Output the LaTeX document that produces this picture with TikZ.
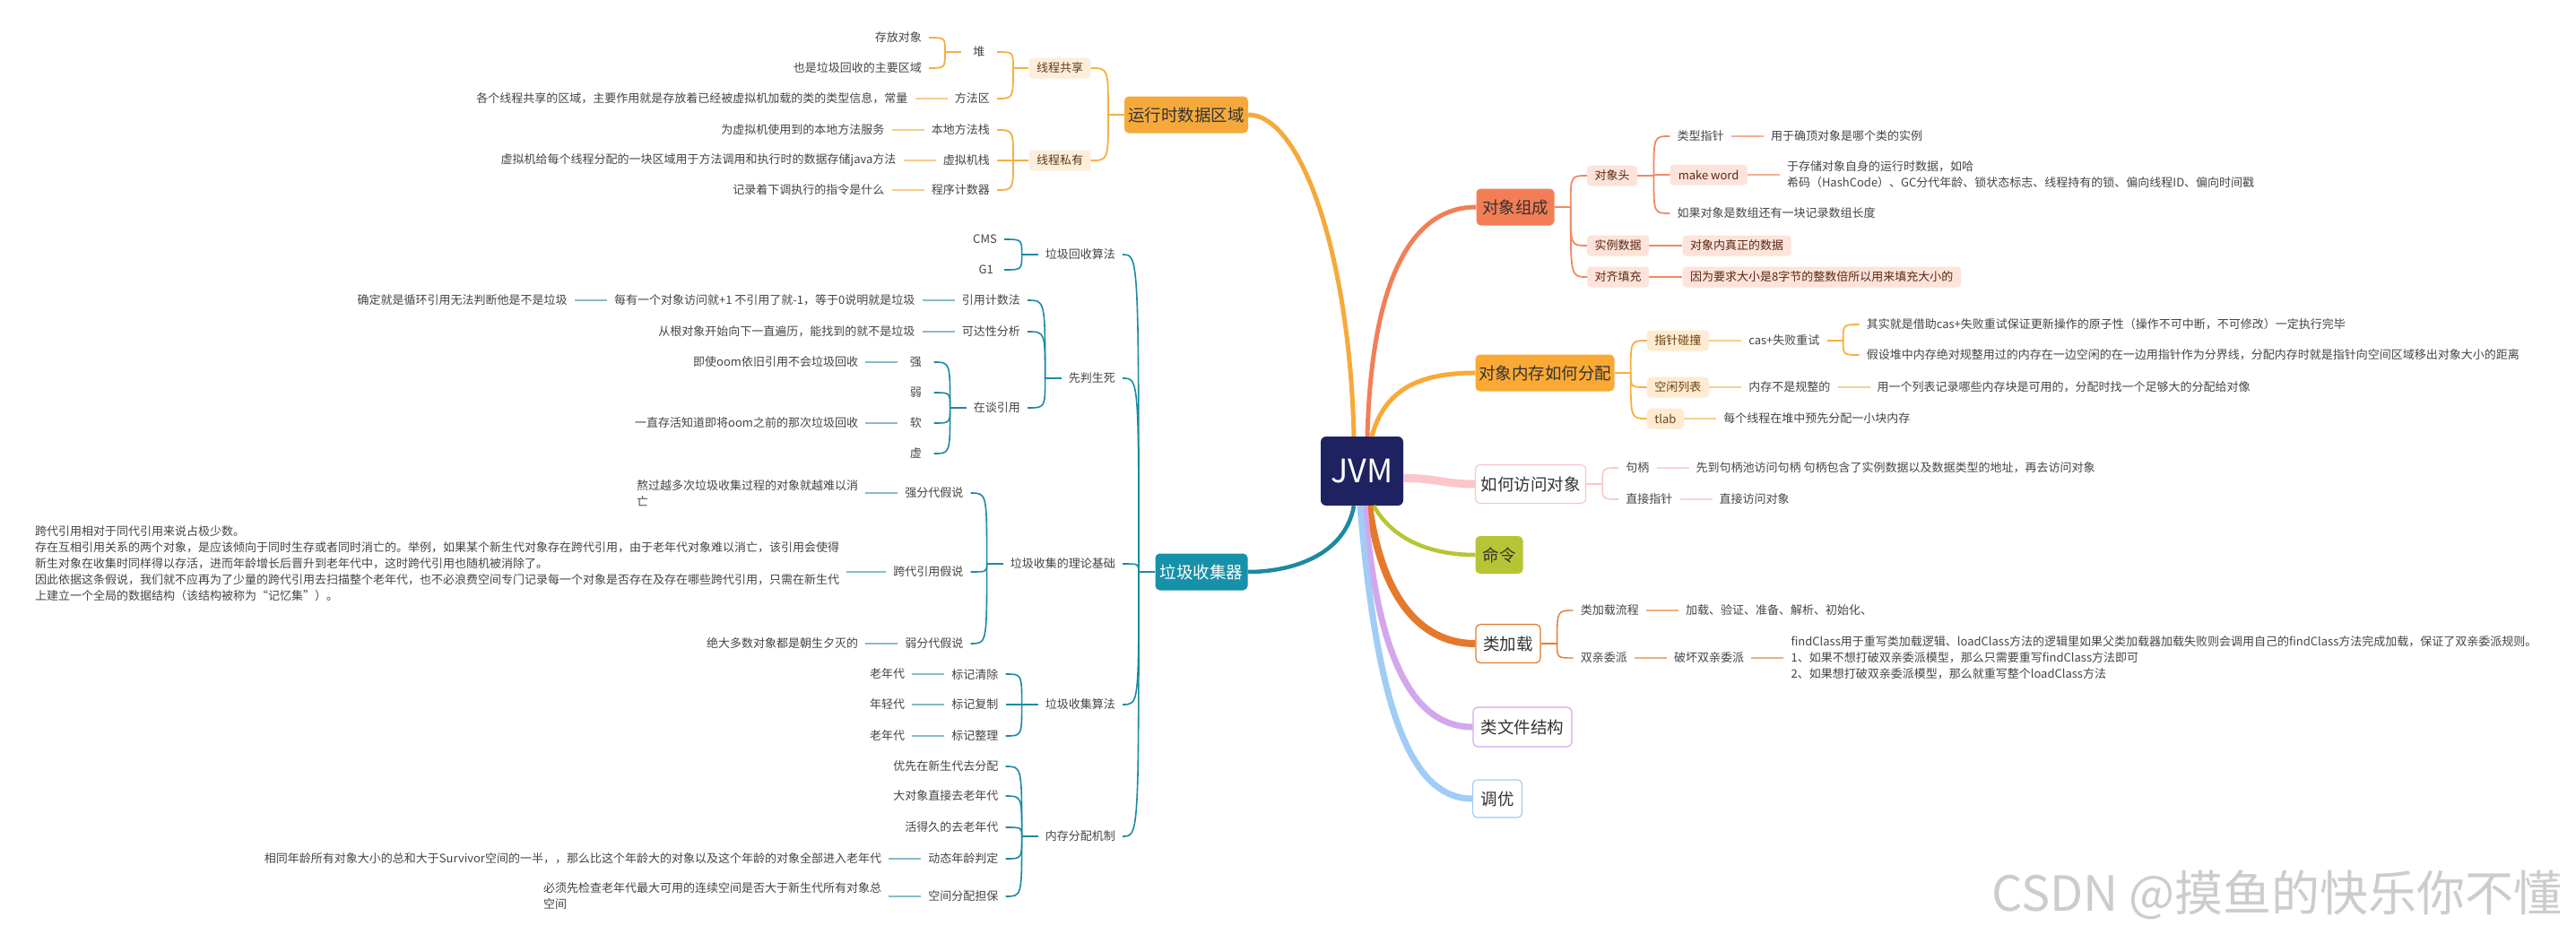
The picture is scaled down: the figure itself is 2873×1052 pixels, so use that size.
\documentclass[tikz,border=0pt]{standalone}
\usepackage{fontspec}
\usetikzlibrary{calc}
\newfontfamily\cjk{Noto Sans CJK SC}
\newcommand\fs{\cjk\fontsize{13}{18}\selectfont}
\newcommand\fm{\cjk\fontsize{18.5}{22}\selectfont}
\newcommand\brk[3]{\draw[#1] (#2) .. controls (#2 |- #3) .. (#3);}
\definecolor{cN}{HTML}{1F2261}
\definecolor{cYb}{HTML}{F6A93B}
\definecolor{cYl}{HTML}{F4AF45}
\definecolor{cYd}{HTML}{F7CB8C}
\definecolor{cYs}{HTML}{FDEEDC}
\definecolor{cYt}{HTML}{5E3C12}
\definecolor{cC}{HTML}{F37E56}
\definecolor{cCs}{HTML}{FDE3D9}
\definecolor{cCt}{HTML}{5A2616}
\definecolor{cCl}{HTML}{F08A62}
\definecolor{cCd}{HTML}{F5AE93}
\definecolor{cO}{HTML}{F9A934}
\definecolor{cOs}{HTML}{FEEBD1}
\definecolor{cOt}{HTML}{6A4210}
\definecolor{cOl}{HTML}{F7B040}
\definecolor{cOd}{HTML}{F9CE8F}
\definecolor{cP}{HTML}{FBC6CA}
\definecolor{cPd}{HTML}{FAD4D7}
\definecolor{cG}{HTML}{B7C435}
\definecolor{cL}{HTML}{E5792B}
\definecolor{cLd}{HTML}{EFAE7C}
\definecolor{cV}{HTML}{D3A7EC}
\definecolor{cB}{HTML}{A0CCF6}
\definecolor{cT}{HTML}{1B8AA1}
\definecolor{cTb}{HTML}{1691A9}
\definecolor{cTd}{HTML}{86BCC8}
\definecolor{txt}{HTML}{454545}
\definecolor{mtxt}{HTML}{333333}
\begin{document}
\begin{tikzpicture}[x=1pt,y=-1pt,
  ptxt/.style={font=\fs, text=txt, inner xsep=8pt, inner ysep=2pt, minimum width=40pt},
  mainbox/.style={font=\fm, rounded corners=5pt, minimum height=41pt, inner sep=0pt, text=mtxt},
  subbox/.style={font=\fs, rounded corners=4pt, minimum height=23pt, inner xsep=8.5pt, inner ysep=0pt},
  ybr/.style={draw=cYl, line width=1.8pt},
  ydet/.style={draw=cYd, line width=1.8pt},
  tbr/.style={draw=cT, line width=1.6pt},
  tdet/.style={draw=cTd, line width=1.8pt},
  cbr/.style={draw=cCl, line width=1.8pt},
  cdet/.style={draw=cCd, line width=1.8pt},
  obr/.style={draw=cOl, line width=1.8pt},
  odet/.style={draw=cOd, line width=1.8pt},
  pbr/.style={draw=cP, line width=1.6pt},
  pdet/.style={draw=cPd, line width=1.8pt},
  lbr/.style={draw=cL, line width=1.4pt},
  ldet/.style={draw=cLd, line width=1.8pt}]
\useasboundingbox (0,0) rectangle (2873,1052);
\fill[white] (0,0) rectangle (2873,1052);

% ---------- centre and main topics ----------
\node[fill=cN, rounded corners=6pt, minimum width=92pt, minimum height=77pt, inner sep=0pt, text=white, font=\cjk\fontsize{36}{40}\selectfont] (jvm) at (1519,525.5) {JVM};
\node[mainbox, fill=cYb, minimum width=138pt] (rt) at (1323,128) {运行时数据区域};
\node[mainbox, fill=cC, minimum width=87pt] (dz) at (1690,231) {对象组成};
\node[mainbox, fill=cO, minimum width=155pt] (fp) at (1723,416) {对象内存如何分配};
\node[mainbox, draw=cP, line width=1.2pt, fill=white, minimum width=123pt, minimum height=43pt] (fw) at (1707,540) {如何访问对象};
\node[mainbox, fill=cG, minimum width=53pt, minimum height=42pt] (ml) at (1672,619) {命令};
\node[mainbox, draw=cL, line width=1.2pt, fill=white, minimum width=72pt, minimum height=43pt] (lj) at (1682,718) {类加载};
\node[mainbox, draw=cV, line width=1.2pt, fill=white, minimum width=110pt, minimum height=44pt] (wj) at (1698,811) {类文件结构};
\node[mainbox, draw=cB, line width=1.2pt, fill=white, minimum width=55pt, minimum height=42pt] (ty) at (1670,891) {调优};
\node[mainbox, fill=cTb, text=white, minimum width=103pt] (gc) at (1340,638) {垃圾收集器};

\draw[cYb, line width=5pt] ([xshift=-9pt]jvm.north) .. controls (1505,280) and (1450,128) .. (rt.east);
\draw[cC, line width=5pt] ([xshift=6pt]jvm.north) .. controls (1530,300) and (1580,231) .. (dz.west);
\draw[cO, line width=5pt] ([xshift=11pt]jvm.north) .. controls (1545,430) and (1590,416) .. (fp.west);
\draw[cP, line width=9pt] ([yshift=-8pt]jvm.east) .. controls (1600,533) and (1610,540) .. (fw.west);
\draw[cG, line width=4.5pt] ([xshift=13pt]jvm.south) .. controls (1555,605) and (1600,619) .. (ml.west);
\draw[cL, line width=8pt] ([xshift=8pt]jvm.south) .. controls (1540,660) and (1580,718) .. (lj.west);
\draw[cV, line width=7pt] ([xshift=3pt]jvm.south) .. controls (1535,720) and (1570,811) .. (wj.west);
\draw[cB, line width=7pt] ([xshift=-2pt]jvm.south) .. controls (1535,780) and (1570,891) .. (ty.west);
\draw[cT, line width=4.5pt] ([xshift=-9pt]jvm.south) .. controls (1500,620) and (1440,638) .. (gc.east);

% ---------- 运行时数据区域 ----------
\node[subbox, fill=cYs, text=cYt, minimum width=69pt] (gx) at (1182,76) {线程共享};
\node[subbox, fill=cYs, text=cYt, minimum width=69pt] (sy) at (1182,179) {线程私有};
\coordinate (jrt) at (1236,128);
\draw[ybr] (rt.west) -- (jrt);
\brk{ybr}{jrt}{gx.east}
\brk{ybr}{jrt}{sy.east}

\node[ptxt, anchor=east] (dui) at (1112,58) {堆};
\node[ptxt, anchor=east] (ffq) at (1112,110) {方法区};
\coordinate (jgx) at (1130,76);
\draw[ybr] (gx.west) -- (jgx);
\brk{ybr}{jgx}{dui.east}
\brk{ybr}{jgx}{ffq.east}

\node[ptxt, anchor=east] (cfdx) at (1036,42) {存放对象};
\node[ptxt, anchor=east] (zyqy) at (1036,76) {也是垃圾回收的主要区域};
\coordinate (jdui) at (1054,58);
\draw[ybr] (dui.west) -- (jdui);
\brk{ybr}{jdui}{cfdx.east}
\brk{ybr}{jdui}{zyqy.east}

\node[ptxt, anchor=east] (ffqd) at ([xshift=-36pt]ffq.west) {各个线程共享的区域，主要作用就是存放着已经被虚拟机加载的类的类型信息，常量};
\draw[ydet] (ffqd.east) -- (ffq.west);

\node[ptxt, anchor=east] (bdz) at (1112,145) {本地方法栈};
\node[ptxt, anchor=east] (xjz) at (1112,179) {虚拟机栈};
\node[ptxt, anchor=east] (cxj) at (1112,212) {程序计数器};
\coordinate (jsy) at (1130,179);
\draw[ybr] (sy.west) -- (jsy);
\brk{ybr}{jsy}{bdz.east}
\brk{ybr}{jsy}{xjz.east}
\brk{ybr}{jsy}{cxj.east}
\node[ptxt, anchor=east] (bdzd) at ([xshift=-36pt]bdz.west) {为虚拟机使用到的本地方法服务};
\node[ptxt, anchor=east] (xjzd) at ([xshift=-36pt]xjz.west) {虚拟机给每个线程分配的一块区域用于方法调用和执行时的数据存储java方法};
\node[ptxt, anchor=east] (cxjd) at ([xshift=-36pt]cxj.west) {记录着下调执行的指令是什么};
\draw[ydet] (bdzd.east) -- (bdz.west);
\draw[ydet] (xjzd.east) -- (xjz.west);
\draw[ydet] (cxjd.east) -- (cxj.west);

% ---------- 垃圾收集器 ----------
\coordinate (jgc) at (1270,638);
\draw[tbr] (gc.west) -- (jgc);
\node[ptxt, anchor=east] (hsf) at (1252,284) {垃圾回收算法};
\node[ptxt, anchor=east] (xpss) at (1252,422) {先判生死};
\node[ptxt, anchor=east] (llj) at (1252,629) {垃圾收集的理论基础};
\node[ptxt, anchor=east] (sjsf) at (1252,786) {垃圾收集算法};
\node[ptxt, anchor=east] (ncfp) at (1252,933) {内存分配机制};
\brk{tbr}{jgc}{hsf.east}
\brk{tbr}{jgc}{xpss.east}
\brk{tbr}{jgc}{llj.east}
\brk{tbr}{jgc}{sjsf.east}
\brk{tbr}{jgc}{ncfp.east}

% 垃圾回收算法
\coordinate (jhsf) at ($(hsf.west)+(-18,0)$);
\draw[tbr] (hsf.west) -- (jhsf);
\node[ptxt, anchor=east] (cms) at (1120,267) {CMS};
\node[ptxt, anchor=east] (gone) at (1120,301) {G1};
\brk{tbr}{jhsf}{cms.east}
\brk{tbr}{jhsf}{gone.east}

% 先判生死
\coordinate (jxp) at ($(xpss.west)+(-18,0)$);
\draw[tbr] (xpss.west) -- (jxp);
\node[ptxt, anchor=east] (yyjs) at (1146,335) {引用计数法};
\node[ptxt, anchor=east] (kdx) at (1146,370) {可达性分析};
\node[ptxt, anchor=east] (ztyy) at (1146,455) {在谈引用};
\brk{tbr}{jxp}{yyjs.east}
\brk{tbr}{jxp}{kdx.east}
\brk{tbr}{jxp}{ztyy.east}
\node[ptxt, anchor=east] (yyjsd) at ([xshift=-36pt]yyjs.west) {每有一个对象访问就+1 不引用了就-1，等于0说明就是垃圾};
\node[ptxt, anchor=east] (yyjsd2) at ([xshift=-36pt]yyjsd.west) {确定就是循环引用无法判断他是不是垃圾};
\node[ptxt, anchor=east] (kdxd) at ([xshift=-36pt]kdx.west) {从根对象开始向下一直遍历，能找到的就不是垃圾};
\draw[tdet] (yyjsd.east) -- (yyjs.west);
\draw[tdet] (yyjsd2.east) -- (yyjsd.west);
\draw[tdet] (kdxd.east) -- (kdx.west);

\coordinate (jzt) at ($(ztyy.west)+(-18,0)$);
\draw[tbr] (ztyy.west) -- (jzt);
\node[ptxt, anchor=east] (qiang) at ($(jzt)+(-18,-51)$) {强};
\node[ptxt, anchor=east] (ruo) at ($(jzt)+(-18,-17)$) {弱};
\node[ptxt, anchor=east] (ruan) at ($(jzt)+(-18,17)$) {软};
\node[ptxt, anchor=east] (xu) at ($(jzt)+(-18,51)$) {虚};
\brk{tbr}{jzt}{qiang.east}
\brk{tbr}{jzt}{ruo.east}
\brk{tbr}{jzt}{ruan.east}
\brk{tbr}{jzt}{xu.east}
\node[ptxt, anchor=east] (qiangd) at ([xshift=-36pt]qiang.west) {即使oom依旧引用不会垃圾回收};
\node[ptxt, anchor=east] (ruand) at ([xshift=-36pt]ruan.west) {一直存活知道即将oom之前的那次垃圾回收};
\draw[tdet] (qiangd.east) -- (qiang.west);
\draw[tdet] (ruand.east) -- (ruan.west);

% 垃圾收集的理论基础
\coordinate (jll) at ($(llj.west)+(-18,0)$);
\draw[tbr] (llj.west) -- (jll);
\node[ptxt, anchor=east] (qfd) at ($(jll)+(-18,-79)$) {强分代假说};
\node[ptxt, anchor=east] (kdyy) at ($(jll)+(-18,9)$) {跨代引用假说};
\node[ptxt, anchor=east] (rfd) at ($(jll)+(-18,89)$) {弱分代假说};
\brk{tbr}{jll}{qfd.east}
\brk{tbr}{jll}{kdyy.east}
\brk{tbr}{jll}{rfd.east}
\node[ptxt, anchor=east, align=left] (qfdd) at ([xshift=-36pt]qfd.west) {熬过越多次垃圾收集过程的对象就越难以消\\亡};
\draw[tdet] (qfdd.east) -- (qfd.west);
\node[ptxt, anchor=west, align=left] (kdyyd) at (31,628.5) {跨代引用相对于同代引用来说占极少数。\\存在互相引用关系的两个对象，是应该倾向于同时生存或者同时消亡的。举例，如果某个新生代对象存在跨代引用，由于老年代对象难以消亡，该引用会使得\\新生对象在收集时同样得以存活，进而年龄增长后晋升到老年代中，这时跨代引用也随机被消除了。\\因此依据这条假说，我们就不应再为了少量的跨代引用去扫描整个老年代，也不必浪费空间专门记录每一个对象是否存在及存在哪些跨代引用，只需在新生代\\上建立一个全局的数据结构（该结构被称为“记忆集”）。};
\draw[tdet] (kdyyd.east |- kdyy.west) -- (kdyy.west);
\node[ptxt, anchor=east] (rfdd) at ([xshift=-36pt]rfd.west) {绝大多数对象都是朝生夕灭的};
\draw[tdet] (rfdd.east) -- (rfd.west);

% 垃圾收集算法
\coordinate (jsj) at ($(sjsf.west)+(-18,0)$);
\draw[tbr] (sjsf.west) -- (jsj);
\node[ptxt, anchor=east] (bjqc) at ($(jsj)+(-18,-34)$) {标记清除};
\node[ptxt, anchor=east] (bjfz) at ($(jsj)+(-18,0)$) {标记复制};
\node[ptxt, anchor=east] (bjzl) at ($(jsj)+(-18,35)$) {标记整理};
\brk{tbr}{jsj}{bjqc.east}
\brk{tbr}{jsj}{bjfz.east}
\brk{tbr}{jsj}{bjzl.east}
\node[ptxt, anchor=east] (lnd1) at ([xshift=-36pt]bjqc.west) {老年代};
\node[ptxt, anchor=east] (nqd) at ([xshift=-36pt]bjfz.west) {年轻代};
\node[ptxt, anchor=east] (lnd2) at ([xshift=-36pt]bjzl.west) {老年代};
\draw[tdet] (lnd1.east) -- (bjqc.west);
\draw[tdet] (nqd.east) -- (bjfz.west);
\draw[tdet] (lnd2.east) -- (bjzl.west);

% 内存分配机制
\coordinate (jnc) at ($(ncfp.west)+(-18,0)$);
\draw[tbr] (ncfp.west) -- (jnc);
\node[ptxt, anchor=east] (yxfp) at ($(jnc)+(-18,-78)$) {优先在新生代去分配};
\node[ptxt, anchor=east] (ddx) at ($(jnc)+(-18,-45)$) {大对象直接去老年代};
\node[ptxt, anchor=east] (hdj) at ($(jnc)+(-18,-10)$) {活得久的去老年代};
\node[ptxt, anchor=east] (dtnl) at ($(jnc)+(-18,25)$) {动态年龄判定};
\node[ptxt, anchor=east] (kjdb) at ($(jnc)+(-18,67)$) {空间分配担保};
\brk{tbr}{jnc}{yxfp.east}
\brk{tbr}{jnc}{ddx.east}
\brk{tbr}{jnc}{hdj.east}
\brk{tbr}{jnc}{dtnl.east}
\brk{tbr}{jnc}{kjdb.east}
\node[ptxt, anchor=east] (dtnld) at ([xshift=-36pt]dtnl.west) {相同年龄所有对象大小的总和大于Survivor空间的一半，，那么比这个年龄大的对象以及这个年龄的对象全部进入老年代};
\node[ptxt, anchor=east, align=left] (kjdbd) at ([xshift=-36pt]kjdb.west) {必须先检查老年代最大可用的连续空间是否大于新生代所有对象总\\空间};
\draw[tdet] (dtnld.east) -- (dtnl.west);
\draw[tdet] (kjdbd.east) -- (kjdb.west);

% ---------- 对象组成 ----------
\coordinate (jdz) at ($(dz.east)+(18,0)$);
\draw[cbr] (dz.east) -- (jdz);
\node[subbox, fill=cCs, text=cCt, minimum width=55pt, anchor=west] (dxt) at (1770,196) {对象头};
\node[subbox, fill=cCs, text=cCt, minimum width=68pt, anchor=west] (slsj) at (1770,274) {实例数据};
\node[subbox, fill=cCs, text=cCt, minimum width=68pt, anchor=west] (dqtc) at (1770,309) {对齐填充};
\brk{cbr}{jdz}{dxt.west}
\brk{cbr}{jdz}{slsj.west}
\brk{cbr}{jdz}{dqtc.west}
\coordinate (jdxt) at ($(dxt.east)+(18,0)$);
\draw[cbr] (dxt.east) -- (jdxt);
\node[ptxt, anchor=west] (lxzz) at ($(jdxt)+(18,-44)$) {类型指针};
\node[subbox, fill=cCs, text=cCt, minimum width=86pt, anchor=west] (mw) at ($(jdxt)+(18,-1)$) {make word};
\node[ptxt, anchor=west] (szcd) at ($(jdxt)+(18,42)$) {如果对象是数组还有一块记录数组长度};
\brk{cbr}{jdxt}{lxzz.west}
\brk{cbr}{jdxt}{mw.west}
\brk{cbr}{jdxt}{szcd.west}
\node[ptxt, anchor=west] (lxzzd) at ([xshift=36pt]lxzz.east) {用于确顶对象是哪个类的实例};
\draw[cdet] (lxzz.east) -- (lxzzd.west);
\node[ptxt, anchor=west, align=left] (mwd) at ([xshift=36pt]mw.east) {于存储对象自身的运行时数据，如哈\\希码（HashCode）、GC分代年龄、锁状态标志、线程持有的锁、偏向线程ID、偏向时间戳};
\draw[cdet] (mw.east) -- (mwd.west);
\node[subbox, fill=cCs, text=cCt, anchor=west] (slsjd) at ([xshift=37pt]slsj.east) {对象内真正的数据};
\draw[cbr] (slsj.east) -- (slsjd.west);
\node[subbox, fill=cCs, text=cCt, anchor=west] (dqtcd) at ([xshift=37pt]dqtc.east) {因为要求大小是8字节的整数倍所以用来填充大小的};
\draw[cbr] (dqtc.east) -- (dqtcd.west);

% ---------- 对象内存如何分配 ----------
\coordinate (jfp) at ($(fp.east)+(18,0)$);
\draw[obr] (fp.east) -- (jfp);
\node[subbox, fill=cOs, text=cOt, minimum width=68pt, anchor=west] (zzpz) at ($(jfp)+(18,-36)$) {指针碰撞};
\node[subbox, fill=cOs, text=cOt, minimum width=68pt, anchor=west] (kxlb) at ($(jfp)+(18,16)$) {空闲列表};
\node[subbox, fill=cOs, text=cOt, minimum width=40pt, anchor=west] (tlab) at ($(jfp)+(18,51)$) {tlab};
\brk{obr}{jfp}{zzpz.west}
\brk{obr}{jfp}{kxlb.west}
\brk{obr}{jfp}{tlab.west}
\node[ptxt, anchor=west] (cas) at ([xshift=36pt]zzpz.east) {cas+失败重试};
\draw[odet] (zzpz.east) -- (cas.west);
\coordinate (jcas) at ($(cas.east)+(18,0)$);
\draw[obr] (cas.east) -- (jcas);
\node[ptxt, anchor=west] (casa) at ($(jcas)+(18,-18)$) {其实就是借助cas+失败重试保证更新操作的原子性（操作不可中断，不可修改）一定执行完毕};
\node[ptxt, anchor=west] (casb) at ($(jcas)+(18,16)$) {假设堆中内存绝对规整用过的内存在一边空闲的在一边用指针作为分界线，分配内存时就是指针向空间区域移出对象大小的距离};
\brk{obr}{jcas}{casa.west}
\brk{obr}{jcas}{casb.west}
\node[ptxt, anchor=west] (bgz) at ([xshift=36pt]kxlb.east) {内存不是规整的};
\node[ptxt, anchor=west] (bgzd) at ([xshift=36pt]bgz.east) {用一个列表记录哪些内存块是可用的，分配时找一个足够大的分配给对像};
\draw[odet] (kxlb.east) -- (bgz.west);
\draw[odet] (bgz.east) -- (bgzd.west);
\node[ptxt, anchor=west] (tlabd) at ([xshift=36pt]tlab.east) {每个线程在堆中预先分配一小块内存};
\draw[odet] (tlab.east) -- (tlabd.west);

% ---------- 如何访问对象 ----------
\coordinate (jfw) at ($(fw.east)+(18,0)$);
\draw[pbr] (fw.east) -- (jfw);
\node[ptxt, anchor=west] (jb) at ($(jfw)+(18,-18)$) {句柄};
\node[ptxt, anchor=west] (zjzz) at ($(jfw)+(18,17)$) {直接指针};
\brk{pbr}{jfw}{jb.west}
\brk{pbr}{jfw}{zjzz.west}
\node[ptxt, anchor=west] (jbd) at ([xshift=36pt]jb.east) {先到句柄池访问句柄 句柄包含了实例数据以及数据类型的地址，再去访问对象};
\node[ptxt, anchor=west] (zjzzd) at ([xshift=36pt]zjzz.east) {直接访问对象};
\draw[pdet] (jb.east) -- (jbd.west);
\draw[pdet] (zjzz.east) -- (zjzzd.west);

% ---------- 类加载 ----------
\coordinate (jlj) at ($(lj.east)+(18,0)$);
\draw[lbr] (lj.east) -- (jlj);
\node[ptxt, anchor=west] (ljlc) at ($(jlj)+(18,-37)$) {类加载流程};
\node[ptxt, anchor=west] (sqwp) at ($(jlj)+(18,16)$) {双亲委派};
\brk{lbr}{jlj}{ljlc.west}
\brk{lbr}{jlj}{sqwp.west}
\node[ptxt, anchor=west] (ljlcd) at ([xshift=36pt]ljlc.east) {加载、验证、准备、解析、初始化、};
\node[ptxt, anchor=west] (phsq) at ([xshift=36pt]sqwp.east) {破坏双亲委派};
\node[ptxt, anchor=west, align=left] (fcd) at ([xshift=36pt]phsq.east) {findClass用于重写类加载逻辑、loadClass方法的逻辑里如果父类加载器加载失败则会调用自己的findClass方法完成加载，保证了双亲委派规则。\\1、如果不想打破双亲委派模型，那么只需要重写findClass方法即可\\2、如果想打破双亲委派模型，那么就重写整个loadClass方法};
\draw[ldet] (ljlc.east) -- (ljlcd.west);
\draw[ldet] (sqwp.east) -- (phsq.west);
\draw[ldet] (phsq.east) -- (fcd.west);

% watermark
\node[font=\cjk\fontsize{54}{58}\selectfont, text=black!20, anchor=east, inner sep=0pt] (wm) at (2858,998) {CSDN @摸鱼的快乐你不懂};
\end{tikzpicture}
\end{document}
